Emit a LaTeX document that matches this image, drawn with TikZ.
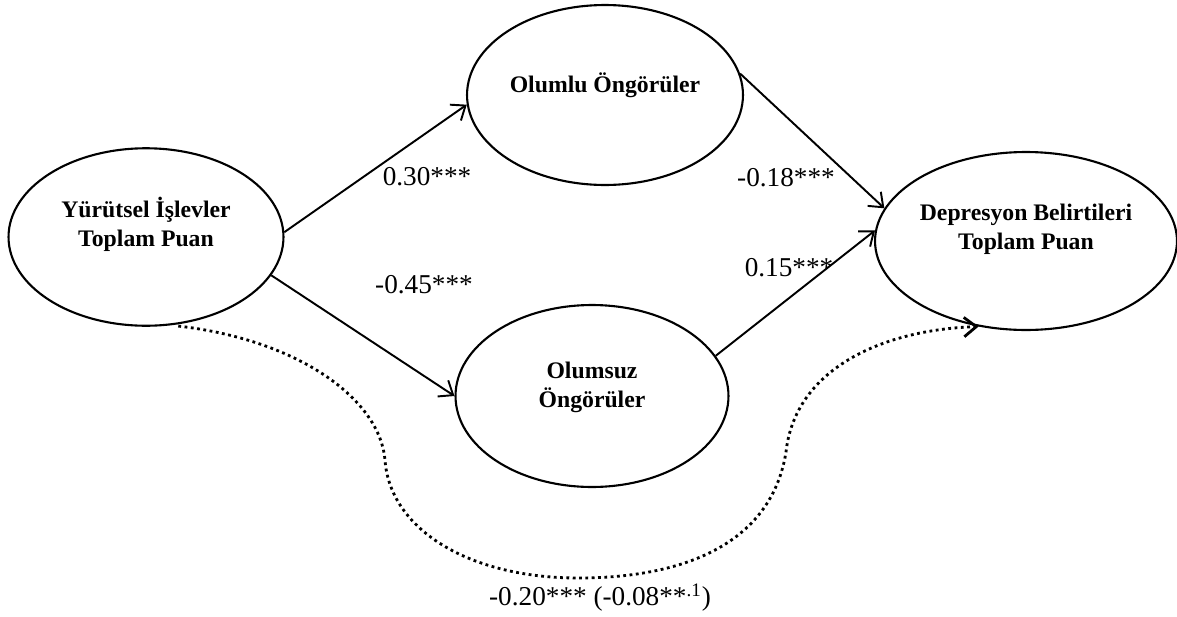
\documentclass[tikz,border=0pt]{standalone}
\usepackage{fontspec}
\setmainfont{Liberation Serif}
\usetikzlibrary{shapes.geometric,arrows.meta}

\tikzset{
  ellnode/.style={draw, ellipse, line width=1.2pt, inner sep=0pt,
    minimum width=5.5cm, minimum height=3.55cm},
  ntext/.style={align=center, font=\fontsize{13.5}{16.5}\selectfont\bfseries},
  coef/.style={font=\fontsize{15.5}{18}\selectfont},
  edgeline/.style={->, line width=1.1pt}
}

\begin{document}
\begin{tikzpicture}[x=0.02cm, y=-0.02cm, >={Straight Barb[length=7pt,width=11pt]}]
  \useasboundingbox (0,0) rectangle (1177,616);

  %% ellipses
  \node[ellnode, label={[ntext, yshift=0.25cm]center:{Yürütsel İşlevler\\Toplam Puan}}] (yi) at (146,237) {};
  \node[ellnode, minimum width=5.52cm, minimum height=3.6cm,
    label={[ntext, yshift=0.2cm]center:{Olumlu Öngörüler}}] (olumlu) at (605,95) {};
  \node[ellnode, minimum width=5.46cm, minimum height=3.64cm,
    label={[ntext, yshift=0.18cm]center:{Olumsuz\\Öngörüler}}] (olumsuz) at (592,396) {};
  \node[ellnode, minimum width=6.04cm, minimum height=3.56cm,
    label={[ntext, yshift=0.24cm]center:{Depresyon Belirtileri\\Toplam Puan}}] (dep) at (1026,241) {};

  %% paths
  \draw[edgeline] (yi.2) -- (olumlu.184);
  \draw[edgeline] (yi.-17) -- (olumsuz.180);
  \draw[edgeline] (olumlu.9) -- (dep.167);
  \draw[edgeline] (olumsuz.18) -- (dep.176);

  %% direct path
  \draw[->, dotted, line width=1.6pt, shorten <=4pt] (yi.-74)
    .. controls (300,340) and (380,400) .. (385,460)
    .. controls (390,530) and (470,578) .. (578,578)
    .. controls (690,578) and (772,540) .. (786,452)
    .. controls (795,370) and (880,330) .. (dep.-119);

  %% coefficients
  \node[coef] (c1) at (427,177) {0.30***};
  \node[coef] (c2) at (424,285) {-0.45***};
  \node[coef] (c3) at (786,178) {-0.18***};
  \node[coef] (c4) at (789,268) {0.15***};
  \node[coef] (c5) at (600,598) {-0.20*** (-0.08**\textsuperscript{.1})};

\end{tikzpicture}
\end{document}
